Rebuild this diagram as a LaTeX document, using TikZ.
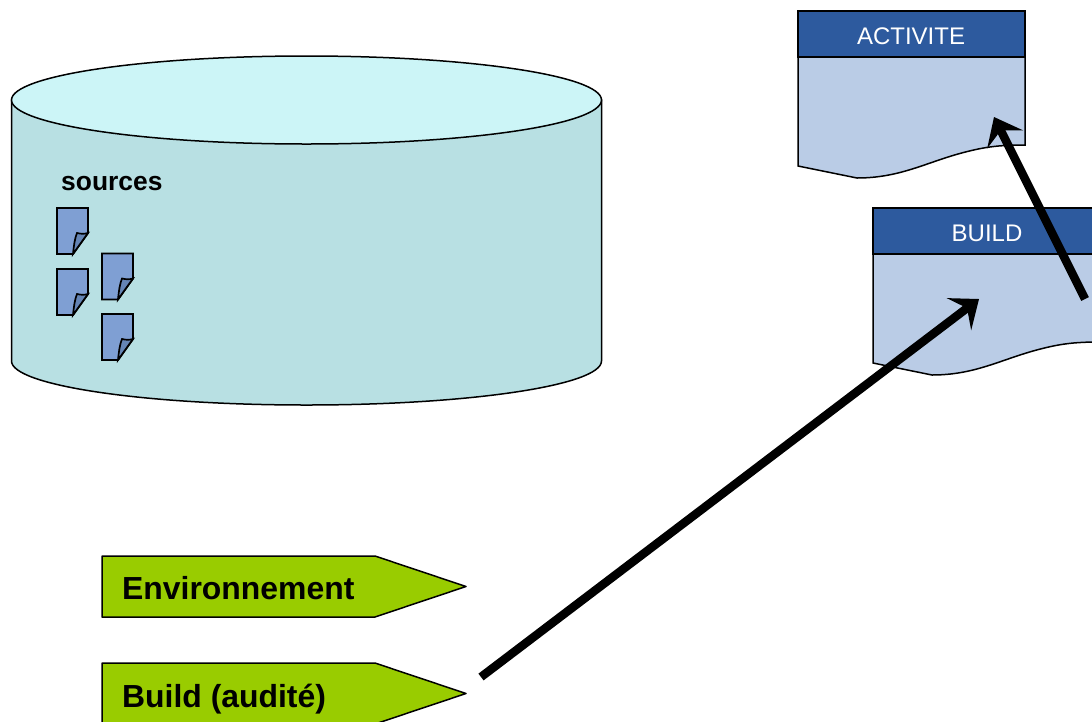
\documentclass[tikz,border=0pt]{standalone}
\usepackage{fontspec}
\setmainfont{Liberation Sans}
\usetikzlibrary{arrows.meta}
\definecolor{dbside}{HTML}{B8E0E3}
\definecolor{dbtop}{HTML}{CCF5F7}
\definecolor{dochead}{HTML}{2D5A9E}
\definecolor{docbody}{HTML}{BACCE6}
\definecolor{pagefill}{HTML}{7F9FD3}
\definecolor{pagefold}{HTML}{6585B5}
\definecolor{tagfill}{HTML}{99CC00}
\tikzset{
  outline/.style={draw=black,line width=1.5pt,line join=miter},
  tagtext/.style={anchor=base west,inner sep=0pt,font=\fontsize{31.9}{36}\selectfont\bfseries,text=black},
  headtext/.style={anchor=base,inner sep=0pt,font=\fontsize{24}{28}\selectfont,text=white},
  bigarrow/.style={line width=8.5pt,-{Stealth[length=25pt,width=40pt,inset=10pt]}},
  pics/srcpage/.style={code={
    \path[outline,line width=1.9pt,fill=pagefill] (0,0) -- (31,0) -- (31,25) -- (16,46) -- (0,46) -- cycle;
    \path[outline,line width=1.7pt,fill=pagefold] (16,46) .. controls (17,36) and (18,30) .. (20,25) .. controls (24,26) and (28,26) .. (31,25) -- cycle;
  }},
  pics/docbox/.style={code={
    \path[outline,fill=docbody] (0,46) -- (227,46) -- (227,134) .. controls (200,134) and (185,136) .. (160,143) .. controls (125,153) and (100,167) .. (59,167) -- (0,155) -- cycle;
    \path[outline,line width=1.8pt,fill=dochead] (0,0) rectangle (227,46);
  }},
  pics/tagshape/.style={code={
    \path[outline,line join=round,fill=tagfill] (0,0) -- (273,0) -- (364,30.5) -- (273,61) -- (0,61) -- cycle;
  }}
}
\begin{document}
\begin{tikzpicture}[x=1pt,y=-1pt]
\useasboundingbox (0,0) rectangle (1092,721);
\clip (0,0) rectangle (1092,721);
% database
\path[outline,fill=dbside] (11.5,100) -- (11.5,361) arc[start angle=180,end angle=360,x radius=295,y radius=-44] -- (601.5,100) -- cycle;
\path[outline,fill=dbtop] (306.5,100) ellipse[x radius=295,y radius=44];
\node[anchor=base west,inner sep=0pt,font=\fontsize{26.4}{30}\selectfont\bfseries] (sources) at (61,190) {sources};
\pic at (57,208) {srcpage};
\pic at (57,269) {srcpage};
\pic at (102,253.5) {srcpage};
\pic at (102,314) {srcpage};
% documents
\pic at (798,11) {docbox};
\node[headtext] (activite) at (911,44) {ACTIVITE};
\pic at (873,208) {docbox};
\node[headtext] (build) at (987,241) {BUILD};
% tags
\pic at (102,556) {tagshape};
\node[tagtext] (env) at (122,599) {Environnement};
\pic at (102,663) {tagshape};
\node[tagtext] (audit) at (122,707) {Build (audité)};
% connectors
\coordinate (a1) at (481,677);
\coordinate (a2) at (979,299);
\coordinate (b1) at (1085,299);
\coordinate (b2) at (994,117);
\draw[bigarrow] (a1) -- (a2);
\draw[bigarrow] (b1) -- (b2);
\end{tikzpicture}
\end{document}
